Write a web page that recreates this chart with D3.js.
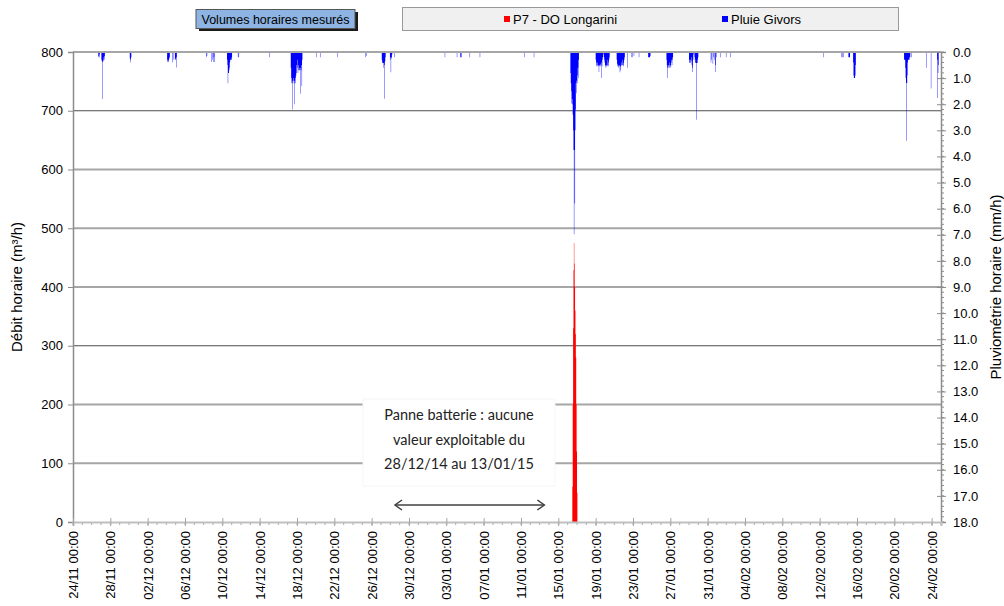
<!DOCTYPE html>
<html><head><meta charset="utf-8">
<script src="https://cdn.jsdelivr.net/npm/d3@7"></script>
<style>
body{margin:0;background:#fff;}
svg{display:block;font-family:"Liberation Sans",Arial,sans-serif;}
</style></head><body>
<svg id="chart" width="1004" height="606"></svg>
<script>
// ---------- DATA ----------
const xDomain = ["2014-11-24 00:00", "2015-02-25 00:00"];
const xTicks = ["2014-11-24","2014-11-28","2014-12-02","2014-12-06","2014-12-10","2014-12-14","2014-12-18","2014-12-22","2014-12-26","2014-12-30","2015-01-03","2015-01-07","2015-01-11","2015-01-15","2015-01-19","2015-01-23","2015-01-27","2015-01-31","2015-02-04","2015-02-08","2015-02-12","2015-02-16","2015-02-20","2015-02-24"];
const leftTicks = [0,100,200,300,400,500,600,700,800];
const rightTicks = [0,1,2,3,4,5,6,7,8,9,10,11,12,13,14,15,16,17,18];

// P7 - DO Longarini : hourly flow (m3/h) from flowStart
const flowStart = "2015-01-16 12:00";
const flowValues = [60, 200, 330, 429, 475, 440, 400, 360, 320, 280, 200, 120, 50];

// Pluie Givors : hourly rain (mm/h), episodes starting at rainStarts
const rainStarts = [
 "2014-11-26 17:00","2014-11-27 01:00","2014-11-30 02:00","2014-12-04 02:00","2014-12-04 15:00",
 "2014-12-04 22:00","2014-12-08 06:00","2014-12-08 20:00","2014-12-10 12:00","2014-12-11 16:00",
 "2014-12-15 00:00","2014-12-17 08:00","2014-12-20 01:00","2014-12-20 12:00","2014-12-22 08:00",
 "2014-12-25 08:00","2014-12-27 02:00","2014-12-27 23:00","2014-12-28 10:00","2015-01-02 20:00",
 "2015-01-04 03:00","2015-01-04 12:00","2015-01-05 12:00","2015-01-06 14:00","2015-01-11 08:00",
 "2015-01-12 09:00","2015-01-16 07:00","2015-01-19 00:00","2015-01-21 06:00","2015-01-22 09:00",
 "2015-01-22 19:00","2015-01-23 15:00","2015-01-24 15:00","2015-01-26 14:00","2015-01-29 00:00",
 "2015-01-31 08:00","2015-02-01 08:00","2015-02-01 23:00","2015-02-02 11:00","2015-02-12 10:00",
 "2015-02-14 07:00","2015-02-15 02:00","2015-02-15 14:00","2015-02-21 01:00","2015-02-21 20:00",
 "2015-02-23 11:00","2015-02-23 22:00","2015-02-24 14:00"
];
const rainValues = [
 [0.2,0.15,0.2,0.1],
 [0.3,0.35,1.8,0.38,0.3,0.35,0.2,0.3,0.15],
 [0.25,0.4,0.3,0.2],
 [0.3,0.38,0.35,0.38,0.3,0.2,0.25],
 [0.4,0,0.3],
 [0.3,0.25,0.3,0.59,0.2],
 [0.2,0,0.15],
 [0.38,0,0.3,0,0.38,0,0.2,0.38],
 [0.3,0.5,1.2,0.8,0.8,0.7,0.6,0.4,0.3,0.3,0.3,0.3,0.2],
 [0.2,0,0.2],
 [0.2],
 [0.6,1.0,1.2,1.1,2.2,1.2,1.0,1.1,1.2,2.0,1.1,1.0,1.2,0.9,0.8,0.5,0.3,0.6,0.8,0.7,0.5,0.6,0.7,0.7,1.6,0.6,0.7,0.5,1.3,0.3],
 [0.2],
 [0.2],
 [0.2],
 [0.2,0,0.15],
 [0.3,0.42,0.4,0.42,0.6,0.42,1.79,0.5,0.35,0.2],
 [0.3,0.2,0.78,0.25,0.2,0.1],
 [0.2],
 [0.2],
 [0.2],
 [0.2,0.2,0.2],
 [0.2],
 [0.2],
 [0.2],
 [0.2],
 [0.8,1.2,1.5,1.97,1.8,2.0,2.4,3.0,3.75,6.98,3.75,5.8,3.0,2.2,1.2,1.1,1.58,1.2,0.9,0.6,1.0,0.3],
 [0.3,0.4,0.55,0.5,0.55,0.4,0.55,0.5,0.77,0.55,0.5,0.45,0.55,0.5,0.4,1.0,0.55,0.3,0.2,0.1,0,0.2,0.3,0.4,0.55,0.5,0.6,0.55,0.5,0.3,0.55,0.5,0.4,0.55,0.3,0.2],
 [0.3,0.45,0.55,0.5,0.55,0.6,0.5,0.55,0.78,0.7,0.55,0.5,0.4,0.55,0.5,0.3,0.5,0.55,0.4,0.3,0.2],
 [0.6],
 [0.2,0,0,0.2,0,0,0,0.15],
 [0.2],
 [0.2,0.2,0.2,0.2,0.2,0.15],
 [0.3,0.5,0.6,1.0,0.6,0.5,0.55,0.6,0.4,0.5,0.6,0.55,0.4,0.3,0.5,0.3,0.2],
 [0.3,0.42,0.4,0.3,0.42,0.35,0.2,0.5,0.77,0.6,0.3,0.1,0,0,0.2,0.3,0.42,0.4,0.42,2.59,0.42,0.3,0.42,0.2],
 [0.4,0,0.3,0,0,0.45,0,0.2,0,0.3,0,0.77,0.5,0,0.2],
 [0.2],
 [0.2],
 [0.2],
 [0.2],
 [0.2,0,0,0,0.2,0,0.2],
 [0.2,0.2,0.2,0.2],
 [0.4,0.9,1.0,1.0,1.0,0.9,0.5],
 [0.3,0.3,0.3,0.6,1.0,1.19,3.4,1.19,0.9,0.4,0.3,0.3,0.3,0.2,0.3,0.2],
 [0.2],
 [0.6],
 [1.4],
 [1.76,0.3,0.8,0.5]
];

const legendTitle = "Volumes horaires mesurés";
const seriesNames = ["P7 - DO Longarini", "Pluie Givors"];
const seriesColors = ["#ff0000", "#0000ff"];
const noteLines = ["Panne batterie : aucune", "valeur exploitable du", "28/12/14 au 13/01/15"];
const gapRange = ["2014-12-28 12:00", "2015-01-13 12:00"];

// ---------- CHART ----------
const parse = d3.timeParse("%Y-%m-%d %H:%M");
const parseDay = d3.timeParse("%Y-%m-%d");
const fmt = d3.timeFormat("%d/%m %H:%M");
const svg = d3.select("#chart");

const L = 73, R = 941, T = 52, B = 522;
const x = d3.scaleTime().domain(xDomain.map(parse)).range([L, R]);
const yL = d3.scaleLinear().domain([0, 800]).range([B, T]);
const yR = d3.scaleLinear().domain([0, 18]).range([T, B]);

// gridlines
const dark = new Set([700, 300]);
svg.append("g").selectAll("line").data(leftTicks.filter(d => d > 0)).join("line")
  .attr("x1", L).attr("x2", R).attr("y1", d => yL(d)).attr("y2", d => yL(d))
  .attr("stroke", d => dark.has(d) ? "#4d4d4d" : "#a6a6a6")
  .attr("stroke-width", d => dark.has(d) ? 1 : 2);

// annotation box (covers gridlines)
const noteG = svg.append("g");
noteG.append("rect").attr("x", 363).attr("y", 399).attr("width", 192).attr("height", 87)
  .attr("fill", "#fff").attr("stroke", "#f5f5f5").attr("stroke-width", 1);
noteG.selectAll("text").data(noteLines).join("text")
  .attr("x", 459).attr("y", (d, i) => 420 + i * 24.5)
  .attr("text-anchor", "middle").attr("font-family", "Lato, 'Open Sans', sans-serif")
  .attr("font-size", 14.5).attr("fill", "#222").text(d => d);

// double arrow
const ay = 505;
const ax0 = x(parse(gapRange[0])), ax1 = x(parse(gapRange[1]));
const arr = svg.append("g").attr("stroke", "#404040").attr("stroke-width", 1.5).attr("fill", "none");
arr.append("line").attr("x1", ax0).attr("x2", ax1).attr("y1", ay).attr("y2", ay);
arr.append("path").attr("d", `M${ax0 + 7},${ay - 5}L${ax0},${ay}L${ax0 + 7},${ay + 5}`);
arr.append("path").attr("d", `M${ax1 - 7},${ay - 5}L${ax1},${ay}L${ax1 - 7},${ay + 5}`);

// series
const HOUR = 3600 * 1000;
function steps(start, vals) {
  const t0 = parse(start);
  const pts = vals.map((v, i) => ({t: new Date(+t0 + i * HOUR), v}));
  pts.push({t: new Date(+t0 + vals.length * HOUR), v: vals[vals.length - 1]});
  return pts;
}
const flowArea = d3.area().curve(d3.curveStepAfter)
  .x(d => x(d.t)).y0(yL(0)).y1(d => yL(d.v));
svg.append("path").datum(steps(flowStart, flowValues))
  .attr("d", flowArea).attr("fill", seriesColors[0]);

const rainArea = d3.area().curve(d3.curveStepAfter)
  .x(d => x(d.t)).y0(yR(0)).y1(d => yR(d.v));
svg.append("g").selectAll("path").data(rainStarts.map((s, i) => steps(s, rainValues[i]))).join("path")
  .attr("d", rainArea).attr("fill", seriesColors[1]);

// top border (800 line) redrawn above rain
svg.append("line").attr("x1", L).attr("x2", R).attr("y1", T).attr("y2", T)
  .attr("stroke", "#a6a6a6").attr("stroke-width", 2);

// left axis
const gL = svg.append("g").attr("transform", `translate(${L},0)`)
  .call(d3.axisLeft(yL).tickValues(leftTicks).tickSize(5).tickPadding(5).tickFormat(d3.format("d")));
gL.select(".domain").attr("stroke", "#8c8c8c").attr("stroke-width", 1.5);
gL.selectAll(".tick line").attr("stroke", "#8c8c8c");
gL.selectAll("text").attr("font-size", 13).attr("font-family", "Liberation Sans, Arial, sans-serif").attr("fill", "#000");

// right axis: minor ticks then major
const minor = d3.range(0, 18.001, 0.2);
svg.append("g").selectAll("line").data(minor).join("line")
  .attr("x1", R).attr("x2", R + 3).attr("y1", d => yR(d)).attr("y2", d => yR(d))
  .attr("stroke", "#8c8c8c").attr("stroke-width", 1);
const gR = svg.append("g").attr("transform", `translate(${R},0)`)
  .call(d3.axisRight(yR).tickValues(rightTicks).tickSize(5).tickPadding(7).tickFormat(d3.format(".1f")));
gR.select(".domain").attr("stroke", "#8c8c8c").attr("stroke-width", 1.5);
gR.selectAll(".tick line").attr("stroke", "#8c8c8c").attr("x1", -4);
gR.selectAll("text").attr("font-size", 13).attr("font-family", "Liberation Sans, Arial, sans-serif").attr("fill", "#000");

// bottom axis: minor daily ticks
const days = d3.timeDay.range(x.domain()[0], d3.timeDay.offset(x.domain()[1], 1));
svg.append("g").selectAll("line").data(days).join("line")
  .attr("x1", d => x(d)).attr("x2", d => x(d)).attr("y1", B).attr("y2", B + 3)
  .attr("stroke", "#a6a6a6");
const gB = svg.append("g").attr("transform", `translate(0,${B})`)
  .call(d3.axisBottom(x).tickValues(xTicks.map(parseDay)).tickSize(4).tickFormat(fmt));
gB.select(".domain").attr("stroke", "#bfbfbf").attr("stroke-width", 2);
gB.selectAll(".tick line").attr("stroke", "#a6a6a6").attr("y1", -4);
gB.selectAll("text").attr("font-size", 13).attr("font-family", "Liberation Sans, Arial, sans-serif")
  .attr("fill", "#000").attr("text-anchor", "end")
  .attr("transform", "rotate(-90)").attr("x", -9).attr("y", 0).attr("dy", "0.35em");

// axis titles
svg.append("text").attr("transform", "translate(22,287) rotate(-90)")
  .attr("text-anchor", "middle").attr("font-size", 15).text("Débit horaire (m³/h)");
svg.append("text").attr("transform", "translate(1001,287) rotate(-90)")
  .attr("text-anchor", "middle").attr("font-size", 15).text("Pluviométrie horaire (mm/h)");

// legend title box
svg.append("rect").attr("x", 199).attr("y", 12).attr("width", 159).attr("height", 19).attr("fill", "#1a1a1a");
svg.append("rect").attr("x", 196).attr("y", 9.5).attr("width", 159).attr("height", 19)
  .attr("fill", "#8db4e2").attr("stroke", "#555").attr("stroke-width", 1);
svg.append("text").attr("x", 275.5).attr("y", 23.5).attr("text-anchor", "middle")
  .attr("font-size", 12.5).text(legendTitle);

// legend box
svg.append("rect").attr("x", 402.5).attr("y", 7.5).attr("width", 496).attr("height", 23)
  .attr("fill", "#f0f0f0").attr("stroke", "#999").attr("stroke-width", 1);
const legX = [504, 722];
seriesNames.forEach((n, i) => {
  svg.append("rect").attr("x", legX[i]).attr("y", 16).attr("width", 6).attr("height", 6).attr("fill", seriesColors[i]);
  svg.append("text").attr("x", legX[i] + 9).attr("y", 23.5).attr("font-size", 13).text(n);
});
</script>
</body></html>
